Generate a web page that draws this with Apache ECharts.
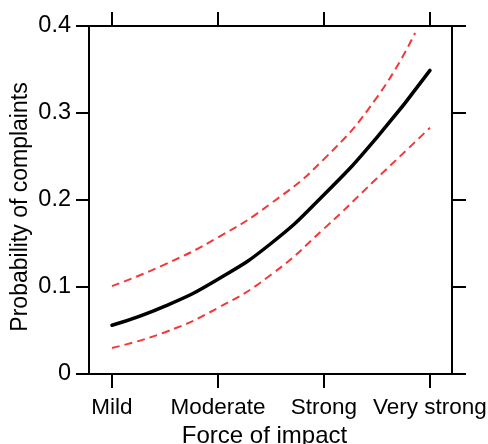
<!DOCTYPE html>
<html>
<head>
<meta charset="utf-8">
<script src="https://cdn.jsdelivr.net/npm/echarts@6/dist/echarts.min.js"></script>
<style>
html,body{margin:0;padding:0;background:#fff;}
#c{width:488px;height:444px;}
</style>
</head>
<body>
<div id="c"></div>
<script>
// Data
var categories = ['Mild', 'Moderate', 'Strong', 'Very strong'];
var categoryPos = [1, 2, 3, 4];
var xPos = [1, 1.5, 2, 2.5, 3, 3.5, 4];
var estimate = [0.056, 0.078, 0.109, 0.150, 0.206, 0.272, 0.349];
var lowerCI = [0.030, 0.048, 0.076, 0.114, 0.167, 0.225, 0.283];
var upperX = [1, 1.5, 2, 2.5, 3, 3.5, 3.86];
var upperCI = [0.101, 0.126, 0.157, 0.196, 0.247, 0.318, 0.392];
var yTicks = [0, 0.1, 0.2, 0.3, 0.4];
var xTitle = 'Force of impact';
var yTitle = 'Probability of complaints';

function pairs(xs, ys) { return xs.map(function (x, i) { return [x, ys[i]]; }); }

var FONT = '"Liberation Sans", Arial, sans-serif';
var axisLine = { show: true, onZero: false, lineStyle: { color: '#000', width: 2 } };
var tick = { show: true, inside: false, length: 14, lineStyle: { color: '#000', width: 2 } };

var chart = echarts.init(document.getElementById('c'), null, { renderer: 'canvas' });
chart.setOption({
  animation: false,
  backgroundColor: '#fff',
  grid: { left: 89, right: 36, top: 26, bottom: 70, containLabel: false, outerBoundsMode: 'none' },
  xAxis: [
    {
      type: 'value', position: 'bottom', min: 0.783, max: 4.208,
      axisLine: axisLine,
      axisTick: Object.assign({ customValues: categoryPos }, tick),
      axisLabel: {
        customValues: categoryPos, margin: 22,
        formatter: function (v) { return categories[Math.round(v) - 1]; },
        color: '#000', fontFamily: FONT, fontSize: 22.5
      },
      splitLine: { show: false },
      name: xTitle, nameLocation: 'middle', nameGap: 50, nameMoveOverlap: false,
      nameTextStyle: { color: '#000', fontFamily: FONT, fontSize: 24, padding: [0, 12, 0, 0] }
    },
    {
      type: 'value', position: 'top', min: 0.783, max: 4.208,
      axisLine: axisLine,
      axisTick: Object.assign({ customValues: categoryPos }, tick),
      axisLabel: { show: false },
      splitLine: { show: false }
    }
  ],
  yAxis: [
    {
      type: 'value', position: 'left', min: yTicks[0], max: yTicks[yTicks.length - 1], interval: 0.1,
      axisLine: axisLine,
      axisTick: Object.assign({}, tick, { length: 13 }),
      axisLabel: {
        margin: 18, color: '#000', fontFamily: FONT, fontSize: 23.5,
        formatter: function (v) { return v === 0 ? '0' : v.toFixed(1); }
      },
      splitLine: { show: false },
      name: yTitle, nameLocation: 'middle', nameGap: 57, nameMoveOverlap: false,
      nameTextStyle: { color: '#000', fontFamily: FONT, fontSize: 23, padding: [0, 14, 0, 0] }
    },
    {
      type: 'value', position: 'right', min: yTicks[0], max: yTicks[yTicks.length - 1], interval: 0.1,
      axisLine: axisLine,
      axisTick: tick,
      axisLabel: { show: false },
      splitLine: { show: false }
    }
  ],
  series: [
    {
      type: 'line', xAxisIndex: 0, yAxisIndex: 0, data: pairs(upperX, upperCI),
      smooth: 0.5, showSymbol: false, clip: true,
      lineStyle: { color: '#f23838', width: 2, type: [8, 5] }
    },
    {
      type: 'line', xAxisIndex: 0, yAxisIndex: 0, data: pairs(xPos, lowerCI),
      smooth: 0.5, showSymbol: false, clip: true,
      lineStyle: { color: '#f23838', width: 2, type: [8, 5] }
    },
    {
      type: 'line', xAxisIndex: 0, yAxisIndex: 0, data: pairs(xPos, estimate),
      smooth: 0.5, showSymbol: false, clip: true,
      lineStyle: { color: '#000', width: 3.5, cap: 'round' }
    }
  ]
});
</script>
</body>
</html>
